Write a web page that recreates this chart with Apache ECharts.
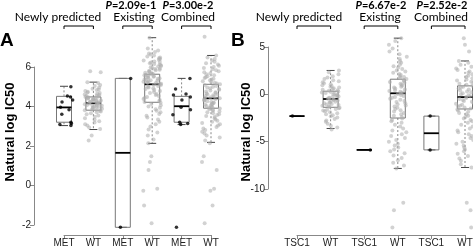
<!DOCTYPE html>
<html>
<head>
<meta charset="utf-8">
<script src="https://cdn.jsdelivr.net/npm/echarts@6/dist/echarts.min.js"></script>
<style>
  html, body { margin: 0; padding: 0; background: #fff; }
  #chart { width: 473px; height: 250px; }
</style>
</head>
<body>
<div id="chart"></div>
<script>
  // categories
  var catsA = ['MET', 'WT', 'MET', 'WT', 'MET', 'WT'];
  var catsB = ['TSC1', 'WT', 'TSC1', 'WT', 'TSC1', 'WT'];
  var yTicksA = [-2, 0, 2, 4, 6];
  var yTicksB = [-10, -5, 0, 5];
  var yLabel = 'Natural log IC50';

  // box stats per category: [min, q1, median, q3, max]
  var boxA = [
    [3.05, 3.22, 3.97, 4.53, 5.04],
    [2.85, 3.83, 4.18, 4.5, 5.25],
    [-2.1, -2.1, 1.67, 5.44, 5.44],
    [2.15, 4.23, 5.14, 5.65, 7.5],
    [3.1, 3.22, 4.03, 4.53, 5.44],
    [2.2, 3.93, 4.43, 5.14, 6.6]
  ];
  var boxB = [
    [-2.3, -2.3, -2.3, -2.3, -2.3],
    [-3.6, -1.37, -0.5, 0.32, 2.5],
    [-5.85, -5.85, -5.85, -5.85, -5.85],
    [-7.8, -2.5, 0.1, 1.58, 5.9],
    [-5.85, -5.85, -4.1, -2.3, -2.3],
    [-7.7, -1.55, -0.3, 0.88, 3.5]
  ];

  // panel A points
  var metNewA = [5.02, 4.55, 4.5, 4.35, 4.25, 3.98, 3.85, 3.62, 3.22, 3.15, 3.1, 3.05];
  var metOldA = [5.44, -2.1];
  var metAllA = [5.44, 4.9, 4.65, 4.6, 4.5, 4.35, 3.98, 3.85, 3.6, 3.22, 3.15, 3.1, -2.1];
  var wtNewA = [5.8, 5.75, 5.25, 5.2, 5.1, 5.05, 4.98, 4.92, 4.88, 4.85, 4.8, 4.76, 4.72, 4.7, 4.66, 4.62,
    4.6, 4.57, 4.55, 4.52, 4.5, 4.48, 4.46, 4.44, 4.42, 4.4, 4.38, 4.36, 4.34, 4.32, 4.3, 4.28, 4.26, 4.24,
    4.22, 4.2, 4.18, 4.17, 4.15, 4.13, 4.11, 4.09, 4.07, 4.05, 4.03, 4.01, 3.99, 3.96, 3.93, 3.9, 3.87, 3.85,
    3.83, 3.8, 3.76, 3.72, 3.68, 3.62, 3.56, 3.5, 3.42, 3.35, 3.27, 3.2, 3.12, 3.05, 2.95, 2.88, 2.55, 2.3];
  var wtOldA = [7.5, 6.95, 6.85, 6.78, 6.7, 6.65, 6.6, 6.55, 6.5, 6.46, 6.42, 6.38, 6.34, 6.3, 6.27, 6.24,
    6.2, 6.17, 6.14, 6.1, 6.07, 6.04, 6.0, 5.97, 5.94, 5.91, 5.88, 5.85, 5.82, 5.79, 5.76, 5.73, 5.7, 5.68,
    5.65, 5.62, 5.6, 5.57, 5.55, 5.52, 5.5, 5.47, 5.45, 5.42, 5.4, 5.37, 5.35, 5.32, 5.3, 5.27, 5.25, 5.22,
    5.2, 5.17, 5.15, 5.12, 5.1, 5.06, 5.02, 4.98, 4.94, 4.9, 4.85, 4.8, 4.75, 4.7, 4.65, 4.6, 4.55, 4.5,
    4.45, 4.4, 4.35, 4.3, 4.25, 4.2, 4.14, 4.08, 4.02, 3.95, 3.88, 3.8, 3.72, 3.64, 3.55, 3.46, 3.36, 3.25,
    3.12, 3.0, 2.85, 2.7, 2.55, 2.35, 2.15, 1.5, 1.2, 0.8, -0.15, -0.25, -1.0, -1.9];
  var wtAllA = [7.55, 6.6, 6.5, 6.42, 6.35, 6.28, 6.2, 6.14, 6.08, 6.02, 5.96, 5.9, 5.85, 5.8, 5.75, 5.7,
    5.65, 5.6, 5.55, 5.5, 5.46, 5.42, 5.38, 5.34, 5.3, 5.26, 5.22, 5.18, 5.14, 5.1, 5.06, 5.02, 4.98, 4.94,
    4.9, 4.86, 4.82, 4.78, 4.74, 4.7, 4.67, 4.64, 4.61, 4.58, 4.55, 4.52, 4.49, 4.46, 4.43, 4.4, 4.37, 4.34,
    4.31, 4.28, 4.25, 4.22, 4.19, 4.16, 4.13, 4.1, 4.07, 4.04, 4.01, 3.98, 3.95, 3.92, 3.88, 3.84, 3.8, 3.76,
    3.72, 3.68, 3.63, 3.58, 3.53, 3.48, 3.42, 3.36, 3.3, 3.24, 3.18, 3.12, 3.05, 2.98, 2.9, 2.82, 2.74, 2.65,
    2.55, 2.45, 2.3, 2.15, 1.5, 1.2, 0.8, -0.15, -0.25, -1.0, -1.9];

  // panel B points
  var tscNewB = [-2.3];
  var tscOldB = [-5.85];
  var tscAllB = [-2.3, -5.85];
  var wtNewB = [2.5, 2.3, 2.1, 1.9, 1.75, 1.6, 1.48, 1.36, 1.25, 1.15, 1.05, 0.95, 0.86, 0.78, 0.7, 0.62,
    0.55, 0.48, 0.42, 0.36, 0.3, 0.24, 0.18, 0.12, 0.06, 0.0, -0.06, -0.12, -0.18, -0.24, -0.3, -0.36, -0.42,
    -0.48, -0.54, -0.6, -0.66, -0.72, -0.78, -0.84, -0.9, -0.96, -1.02, -1.08, -1.14, -1.2, -1.27, -1.34,
    -1.41, -1.48, -1.56, -1.64, -1.72, -1.8, -1.9, -2.0, -2.1, -2.2, -2.32, -2.45, -2.6, -2.75, -2.9, -3.1,
    -3.3, -3.5, -3.7];
  var wtOldB = [5.9, 5.6, 5.2, 4.8, 4.5, 4.2, 3.95, 3.7, 3.5, 3.3, 3.1, 2.95, 2.8, 2.65, 2.5, 2.38, 2.26,
    2.14, 2.02, 1.9, 1.8, 1.7, 1.6, 1.5, 1.4, 1.3, 1.2, 1.1, 1.0, 0.9, 0.8, 0.7, 0.6, 0.5, 0.42, 0.34, 0.26,
    0.18, 0.1, 0.02, -0.08, -0.18, -0.28, -0.38, -0.48, -0.58, -0.7, -0.82, -0.94, -1.06, -1.18, -1.3, -1.42,
    -1.55, -1.68, -1.82, -1.96, -2.1, -2.25, -2.4, -2.55, -2.7, -2.85, -3.0, -3.2, -3.4, -3.6, -3.8, -4.0,
    -4.2, -4.4, -4.6, -4.8, -5.0, -5.2, -5.4, -5.6, -5.8, -6.0, -6.2, -6.45, -6.7, -6.95, -7.2, -7.5, -7.8,
    -11.4, -12.2, -14.0];
  var wtAllB = [5.9, 5.2, 4.5, 3.5, 3.3, 3.1, 2.9, 2.7, 2.55, 2.4, 2.25, 2.1, 1.95, 1.8, 1.68, 1.56, 1.44,
    1.32, 1.2, 1.1, 1.0, 0.9, 0.8, 0.7, 0.6, 0.5, 0.4, 0.3, 0.2, 0.1, 0.0, -0.1, -0.2, -0.3, -0.4, -0.5, -0.6,
    -0.7, -0.8, -0.9, -1.0, -1.1, -1.2, -1.3, -1.4, -1.5, -1.6, -1.72, -1.84, -1.96, -2.1, -2.25, -2.4, -2.55,
    -2.7, -2.85, -3.0, -3.2, -3.4, -3.6, -3.8, -4.0, -4.2, -4.4, -4.6, -4.8, -5.0, -5.2, -5.4, -5.6, -5.8,
    -6.0, -6.25, -6.5, -6.75, -7.0, -7.35, -7.7, -11.4, -12.2, -14.0];

  // pairs of categories under each bracket
  var pairs = [[0, 1], [2, 3], [4, 5]];

  function toPoints(idx, vals) {
    return vals.map(function (v) { return [idx, v]; });
  }

  function renderBox(params, api) {
    var i = api.value(0);
    var lo = api.coord([i, api.value(1)]);
    var q1 = api.coord([i, api.value(2)]);
    var md = api.coord([i, api.value(3)]);
    var q3 = api.coord([i, api.value(4)]);
    var hi = api.coord([i, api.value(5)]);
    var x = lo[0], hw = 7.5, cw = 4;
    var dash = {stroke: '#888', lineWidth: 1, lineDash: [2, 2]};
    var cap = {stroke: '#444', lineWidth: 1};
    return {
      type: 'group',
      children: [
        {type: 'line', shape: {x1: x, y1: q3[1], x2: x, y2: hi[1]}, style: dash},
        {type: 'line', shape: {x1: x, y1: q1[1], x2: x, y2: lo[1]}, style: dash},
        {type: 'line', shape: {x1: x - cw, y1: hi[1], x2: x + cw, y2: hi[1]}, style: cap},
        {type: 'line', shape: {x1: x - cw, y1: lo[1], x2: x + cw, y2: lo[1]}, style: cap},
        {type: 'rect', shape: {x: x - hw, y: q3[1], width: hw * 2, height: q1[1] - q3[1]},
          style: {fill: 'none', stroke: '#777', lineWidth: 1}},
        {type: 'line', shape: {x1: x - hw, y1: md[1], x2: x + hw, y2: md[1]},
          style: {stroke: '#000', lineWidth: 1.8}}
      ]
    };
  }

  function renderBracket(params, api) {
    var x1 = api.coord([api.value(0), 0])[0];
    var x2 = api.coord([api.value(1), 0])[0];
    var y = params.coordSys.y - 3;
    return {
      type: 'polyline',
      shape: {points: [[x1, y + 3], [x1, y], [x2, y], [x2, y + 3]]},
      style: {stroke: '#000', fill: 'none', lineWidth: 1}
    };
  }

  var font = 'Liberation Sans';
  function catAxis(grid, cats) {
    return {
      type: 'category', gridIndex: grid, data: cats, boundaryGap: false, position: 'bottom',
      jitter: 18,
      axisLine: {show: true, onZero: false, lineStyle: {color: '#888'}},
      axisTick: {show: true, length: 4, lineStyle: {color: '#888'}},
      axisLabel: {interval: 0, fontSize: 10, margin: 3, color: '#222', fontFamily: font},
      splitLine: {show: false}
    };
  }
  function tickAxis(grid, ticks) {
    return {
      type: 'value', gridIndex: grid, min: ticks[0], max: ticks[ticks.length - 1],
      interval: ticks[1] - ticks[0],
      axisLine: {show: true, onZero: false, lineStyle: {color: '#888'}},
      axisTick: {show: true, length: 4, lineStyle: {color: '#888'}},
      axisLabel: {fontSize: 10, margin: 3, color: '#222', fontFamily: font},
      splitLine: {show: false}
    };
  }
  function hiddenAxis(grid, min, max) {
    return {
      type: 'value', gridIndex: grid, min: min, max: max, show: false,
      axisLine: {show: false, onZero: false}, axisTick: {show: false},
      axisLabel: {show: false}, splitLine: {show: false}
    };
  }

  function pText(x, val) {
    return {
      type: 'text', x: x, y: 5,
      style: {
        text: '{i|P}{b|=' + val + '}', textAlign: 'center', textVerticalAlign: 'middle',
        rich: {
          i: {fontFamily: 'Lato', fontSize: 11, fontWeight: 'bold', fontStyle: 'italic', fill: '#000'},
          b: {fontFamily: 'Lato', fontSize: 11, fontWeight: 'bold', fill: '#000'}
        }
      }
    };
  }
  function gText(x, t) {
    return {type: 'text', x: x, y: 17,
      style: {text: t, textAlign: 'center', textVerticalAlign: 'middle', font: '12px Lato', fill: '#000'}};
  }

  var myChart = echarts.init(document.getElementById('chart'));
  var option = {
    animation: false,
    grid: [
      {left: 64, top: 29, width: 147, height: 206, outerBoundsMode: 'none', containLabel: false},
      {left: 34, top: 67, width: 147, height: 158, outerBoundsMode: 'none', containLabel: false},
      {left: 297, top: 29, width: 168, height: 206, outerBoundsMode: 'none', containLabel: false},
      {left: 268, top: 47, width: 168, height: 142, outerBoundsMode: 'none', containLabel: false}
    ],
    xAxis: [
      catAxis(0, catsA),
      hiddenAxis(1, 0, 1),
      catAxis(2, catsB),
      hiddenAxis(3, 0, 1)
    ],
    yAxis: [
      hiddenAxis(0, -2.49, 7.94),
      tickAxis(1, yTicksA),
      hiddenAxis(2, -14.8, 6.86),
      tickAxis(3, yTicksB)
    ],
    graphic: [
      {type: 'text', left: 0, top: 31, style: {text: 'A', font: 'bold 19px "Liberation Sans"', fill: '#000'}},
      {type: 'text', left: 231, top: 31, style: {text: 'B', font: 'bold 19px "Liberation Sans"', fill: '#000'}},
      {type: 'text', x: 10, y: 132, rotation: Math.PI / 2,
        style: {text: yLabel, textAlign: 'center', textVerticalAlign: 'middle', font: 'bold 13px "Liberation Sans"', fill: '#000'}},
      {type: 'text', x: 246, y: 132, rotation: Math.PI / 2,
        style: {text: yLabel, textAlign: 'center', textVerticalAlign: 'middle', font: 'bold 13px "Liberation Sans"', fill: '#000'}},
      gText(58, 'Newly predicted'),
      gText(134, 'Existing'),
      gText(188, 'Combined'),
      pText(131, '2.09e-1'),
      pText(188, '3.00e-2'),
      gText(299, 'Newly predicted'),
      gText(380, 'Existing'),
      gText(441, 'Combined'),
      pText(381, '6.67e-2'),
      pText(442, '2.52e-2')
    ],
    series: [
      {
        type: 'scatter', xAxisIndex: 0, yAxisIndex: 0, clip: false, symbolSize: 4,
        itemStyle: {color: 'rgba(175,175,175,0.7)'},
        data: [].concat(toPoints(1, wtNewA), toPoints(3, wtOldA), toPoints(5, wtAllA))
      },
      {
        type: 'custom', xAxisIndex: 0, yAxisIndex: 0, renderItem: renderBox,
        encode: {x: 0, y: [1, 2, 3, 4, 5]},
        data: boxA.map(function (s, i) { return [i].concat(s); })
      },
      {
        type: 'scatter', xAxisIndex: 0, yAxisIndex: 0, clip: false, symbolSize: 3.5,
        itemStyle: {color: '#000'},
        data: [].concat(toPoints(0, metNewA), toPoints(2, metOldA), toPoints(4, metAllA))
      },
      {
        type: 'custom', xAxisIndex: 0, yAxisIndex: 0, renderItem: renderBracket,
        encode: {x: [0, 1]}, data: pairs
      },
      {
        type: 'scatter', xAxisIndex: 2, yAxisIndex: 2, clip: false, symbolSize: 4,
        itemStyle: {color: 'rgba(175,175,175,0.7)'},
        data: [].concat(toPoints(1, wtNewB), toPoints(3, wtOldB), toPoints(5, wtAllB))
      },
      {
        type: 'custom', xAxisIndex: 2, yAxisIndex: 2, renderItem: renderBox,
        encode: {x: 0, y: [1, 2, 3, 4, 5]},
        data: boxB.map(function (s, i) { return [i].concat(s); })
      },
      {
        type: 'scatter', xAxisIndex: 2, yAxisIndex: 2, clip: false, symbolSize: 3.5,
        itemStyle: {color: '#000'},
        data: [].concat(toPoints(0, tscNewB), toPoints(2, tscOldB), toPoints(4, tscAllB))
      },
      {
        type: 'custom', xAxisIndex: 2, yAxisIndex: 2, renderItem: renderBracket,
        encode: {x: [0, 1]}, data: pairs
      }
    ]
  };
  myChart.setOption(option);
</script>
</body>
</html>
